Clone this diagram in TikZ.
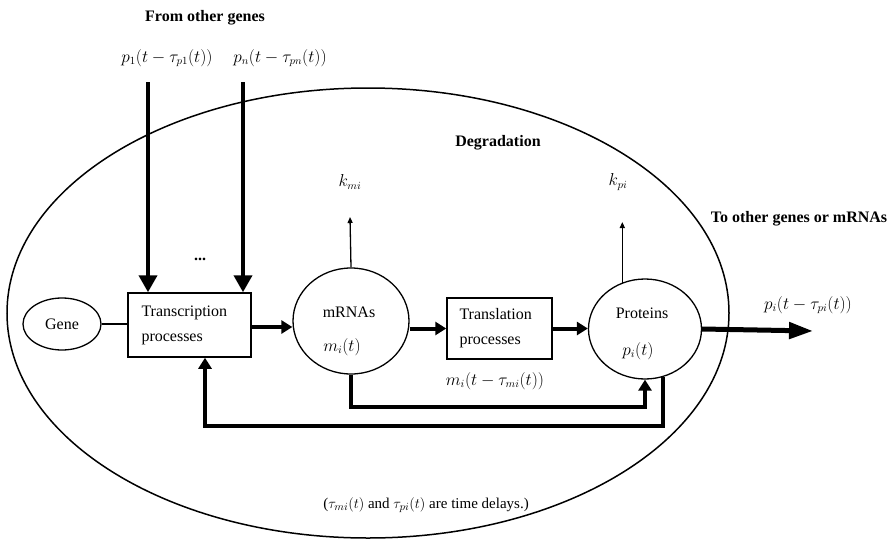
\documentclass[tikz,border=0pt]{standalone}
\usepackage{fontspec}
\setmainfont{Liberation Serif}
\usetikzlibrary{shapes.geometric,arrows.meta}
\tikzset{
  txt/.style={font=\fontsize{16}{18}\selectfont, inner sep=1pt},
  bold/.style={font=\fontsize{16}{18}\selectfont\bfseries, inner sep=1pt},
  oval/.style={draw, line width=1.3pt, ellipse, inner sep=0pt, font=\fontsize{16}{18}\selectfont, align=center},
  proc/.style={draw, line width=1.5pt, rectangle, inner sep=0pt, font=\fontsize{16}{25}\selectfont, align=left},
  flow/.style={line width=4pt, line join=miter, -{Triangle[length=11pt,width=13pt]}},
  bigflow/.style={line width=4pt, -{Triangle[length=17pt,width=18pt]}},
  thin/.style={line width=1.3pt, -{Triangle[length=6pt,width=5pt]}},
}
\begin{document}
\begin{tikzpicture}[x=1pt,y=-1pt]
\useasboundingbox (0,0) rectangle (891,541);
% cell
\draw[line width=1.5pt] (368,313) ellipse [x radius=361, y radius=225];
% nodes
\node[oval, minimum width=78pt, minimum height=52pt] (gene) at (62,324) {Gene};
\node[proc, minimum width=123pt, minimum height=64pt, text width=96pt] (trans) at (189.5,325) {Transcription\\processes};
\node[oval, minimum width=116pt, minimum height=106pt] (mrna) at (351,321) {};
\node[proc, minimum width=105pt, minimum height=61pt, text width=80pt] (transl) at (499.5,328.5) {Translation\\processes};
\node[oval, minimum width=113pt, minimum height=100pt] (prot) at (645,329) {};
% texts inside the ovals
\node[txt] (mrnaname) at (349,312) {mRNAs};
\node[txt] (mrnavar) at (342,347) {$m_i(t)$};
\node[txt] (protname) at (642,313) {Proteins};
\node[txt] (protvar) at (638,351) {$p_i(t)$};
% other texts
\node[bold] (from) at (205,18) {From other genes};
\node[txt] (p1) at (167,58) {$p_1(t-\tau_{p1}(t))$};
\node[txt] (pn) at (280,58) {$p_n(t-\tau_{pn}(t))$};
\node[bold] (dots) at (200,259) {...};
\node[bold] (deg) at (498,143) {Degradation};
\node[txt] (km) at (350,182) {$k_{mi}$};
\node[txt] (kp) at (618,182) {$k_{pi}$};
\node[bold] (toother) at (799,219) {To other genes or mRNAs};
\node[txt] (pout) at (808,305) {$p_i(t-\tau_{pi}(t))$};
\node[txt] (mdel) at (495,381) {$m_i(t-\tau_{mi}(t))$};
\node[txt, font=\fontsize{15}{18}\selectfont] (note) at (426,505) {($\tau_{mi}(t)$ and $\tau_{pi}(t)$ are time delays.)};
% coordinates
\coordinate (in1) at (148,82);
\coordinate (in2) at (243,82);
\coordinate (kmtop) at (350,217);
\coordinate (kptop) at (622,222);
\coordinate (out) at (813,331);
\coordinate (b1) at (0,407);
\coordinate (b2) at (205,426);
% connectors
\draw[line width=1.3pt] (gene.east) -- (trans.west |- gene.east);
\draw[bigflow] (in1) -- (in1 |- trans.north);
\draw[bigflow] (in2) -- (in2 |- trans.north);
\draw[flow] (trans.east |- 0,327) -- (mrna.west |- 0,327);
\draw[flow] (transl.west -| mrna.east) -- (transl.west);
\draw[flow] (transl.east) -- (transl.east -| prot.west);
\draw[line width=5pt, -{Triangle[length=24pt,width=16pt]}] (prot.east) -- (out);
\draw[thin] (mrna.north) -- (kmtop);
\draw[thin] (prot.116.6) -- (prot.116.6 |- kptop);
\draw[flow] (mrna.south) -- (mrna.south |- b1) -| (prot.south);
\draw[flow] (prot.291) |- (b2) -- (b2 |- trans.south);
\end{tikzpicture}
\end{document}
